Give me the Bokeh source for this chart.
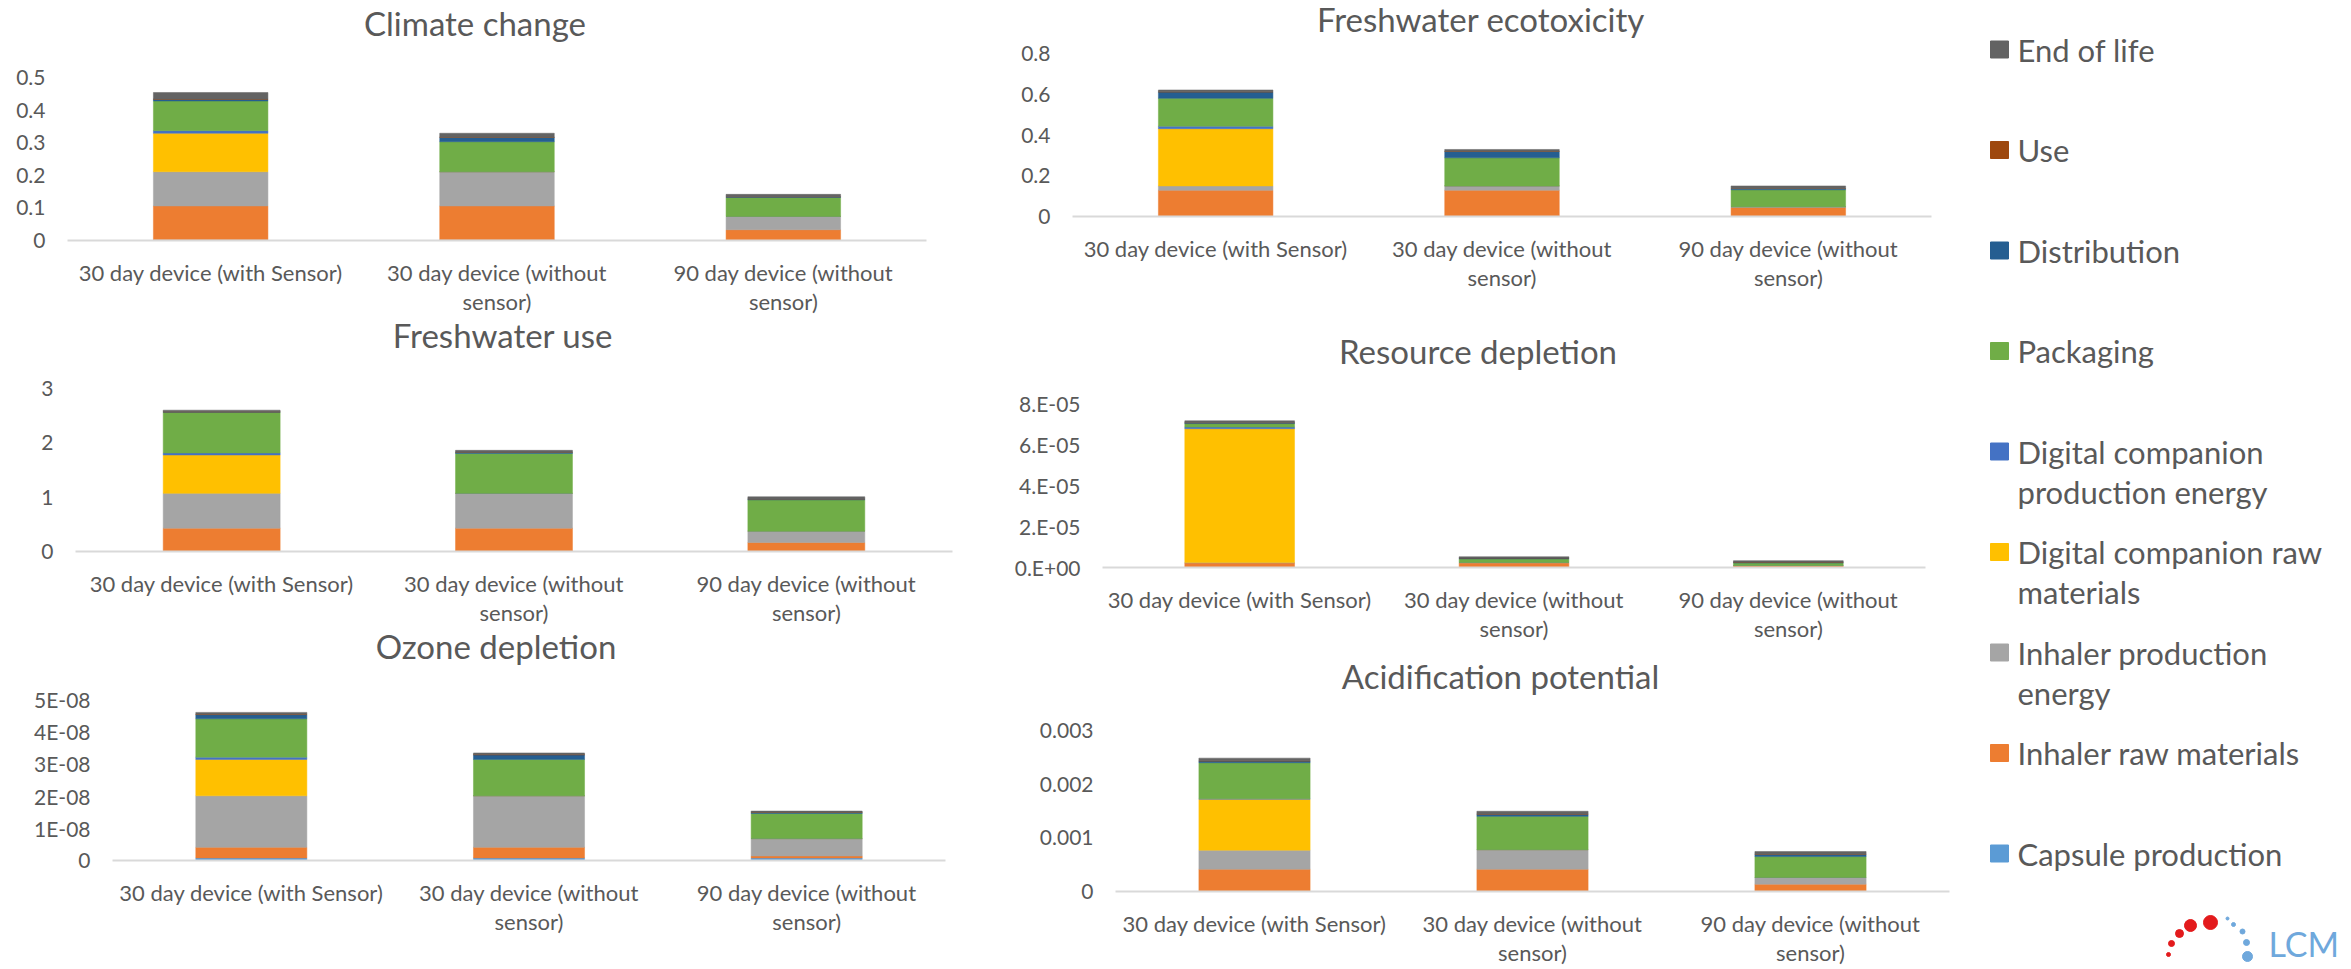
from bokeh.plotting import figure
from bokeh.layouts import row, column
from bokeh.models import Range1d, ColumnDataSource
from bokeh.embed import file_html
from bokeh.resources import INLINE
from bokeh.core.properties import value

# ---------------- data ----------------
categories = ["30 day device (with Sensor)",
              "30 day device (without sensor)",
              "90 day device (without sensor)"]
category_labels = ["30 day device (with Sensor)",
                   "30 day device (without\nsensor)",
                   "90 day device (without\nsensor)"]

# stacking order, bottom to top
series = ["Capsule production", "Inhaler raw materials", "Inhaler production energy",
          "Digital companion raw materials", "Digital companion production energy",
          "Packaging", "Distribution", "Use", "End of life"]
series_colors = ["#5b9bd5", "#ed7d31", "#a5a5a5", "#ffc000", "#4472c4",
                 "#70ad47", "#255e91", "#9e480e", "#636363"]
legend_wrapped = ["End of life", "Use", "Distribution", "Packaging",
                  "Digital companion\nproduction energy",
                  "Digital companion raw\nmaterials",
                  "Inhaler production\nenergy",
                  "Inhaler raw materials", "Capsule production"]

# rows follow `series`, columns follow `categories`
climate_change = [
    [0.002, 0.002, 0.001],
    [0.104, 0.104, 0.032],
    [0.105, 0.105, 0.041],
    [0.118, 0.0, 0.0],
    [0.008, 0.0, 0.0],
    [0.091, 0.092, 0.058],
    [0.005, 0.013, 0.002],
    [0.001, 0.001, 0.0005],
    [0.020, 0.012, 0.007],
]
climate_ticks = [0, 0.1, 0.2, 0.3, 0.4, 0.5]
climate_tick_labels = ["0", "0.1", "0.2", "0.3", "0.4", "0.5"]

freshwater_use = [
    [0.01, 0.01, 0.005],
    [0.42, 0.42, 0.16],
    [0.64, 0.64, 0.21],
    [0.706, 0.0, 0.0],
    [0.037, 0.0, 0.0],
    [0.75, 0.735, 0.576],
    [0.006, 0.02, 0.015],
    [0.002, 0.002, 0.001],
    [0.03, 0.035, 0.04],
]
freshwater_ticks = [0, 1, 2, 3]
freshwater_tick_labels = ["0", "1", "2", "3"]

ozone_depletion = [
    [0.08e-8, 0.08e-8, 0.08e-8],
    [0.33e-8, 0.33e-8, 0.06e-8],
    [1.60e-8, 1.60e-8, 0.54e-8],
    [1.13e-8, 0.0, 0.0],
    [0.07e-8, 0.0, 0.0],
    [1.19e-8, 1.13e-8, 0.78e-8],
    [0.13e-8, 0.14e-8, 0.03e-8],
    [0.01e-8, 0.01e-8, 0.005e-8],
    [0.06e-8, 0.05e-8, 0.04e-8],
]
ozone_ticks = [0, 1e-8, 2e-8, 3e-8, 4e-8, 5e-8]
ozone_tick_labels = ["0", "1E-08", "2E-08", "3E-08", "4E-08", "5E-08"]

freshwater_ecotoxicity = [
    [0.002, 0.002, 0.001],
    [0.127, 0.127, 0.043],
    [0.021, 0.021, 0.004],
    [0.281, 0.0, 0.0],
    [0.012, 0.0, 0.0],
    [0.137, 0.138, 0.083],
    [0.031, 0.031, 0.006],
    [0.001, 0.001, 0.001],
    [0.009, 0.009, 0.012],
]
ecotox_ticks = [0, 0.2, 0.4, 0.6, 0.8]
ecotox_tick_labels = ["0", "0.2", "0.4", "0.6", "0.8"]

resource_depletion = [
    [0.02e-5, 0.02e-5, 0.01e-5],
    [0.20e-5, 0.20e-5, 0.07e-5],
    [0.02e-5, 0.03e-5, 0.02e-5],
    [6.53e-5, 0.0, 0.0],
    [0.08e-5, 0.0, 0.0],
    [0.17e-5, 0.17e-5, 0.12e-5],
    [0.04e-5, 0.04e-5, 0.04e-5],
    [0.005e-5, 0.005e-5, 0.005e-5],
    [0.09e-5, 0.06e-5, 0.07e-5],
]
resource_ticks = [0, 2e-5, 4e-5, 6e-5, 8e-5]
resource_tick_labels = ["0.E+00", "2.E-05", "4.E-05", "6.E-05", "8.E-05"]

acidification_potential = [
    [0.00001, 0.00001, 0.000005],
    [0.000406, 0.000406, 0.000132],
    [0.000354, 0.000364, 0.000124],
    [0.00095, 0.0, 0.0],
    [0.00001, 0.0, 0.0],
    [0.00067, 0.00062, 0.00039],
    [0.00003, 0.00004, 0.00004],
    [0.000005, 0.000005, 0.000003],
    [0.00005, 0.00005, 0.00005],
]
acid_ticks = [0, 0.001, 0.002, 0.003]
acid_tick_labels = ["0", "0.001", "0.002", "0.003"]

# ---------------- styling ----------------
FONT = "Lato"
TEXT_COLOR = "#595959"
AXIS_COLOR = "#d9d9d9"


def make_panel(title, values, ticks, tick_labels, W, H, a, b, y_top, y_zero,
               title_dx, title_above):
    """a, b: pixel left/right of the category area; y_top, y_zero: pixel rows
    of the top tick and of zero (from the top of the panel)."""
    n = len(categories)
    unit = (b - a) / n
    ymax = ticks[-1]
    per_px = ymax / (y_zero - y_top)
    p = figure(width=W, height=H,
               x_range=Range1d(-a / unit, n + (W - b) / unit),
               y_range=Range1d(-(H - y_zero) * per_px, ymax + y_top * per_px),
               toolbar_location=None, tools="", output_backend="svg",
               min_border=0)
    p.axis.visible = False
    p.grid.visible = False
    p.outline_line_color = None

    xs = [i + 0.5 for i in range(n)]
    data = {"x": xs}
    for name, vals in zip(series, values):
        data[name] = vals
    source = ColumnDataSource(data)
    p.vbar_stack(series, x="x", width=0.4, color=series_colors,
                 line_width=0.5, source=source)

    # category axis line
    p.segment(x0=[0], x1=[n], y0=[0], y1=[0], line_color=AXIS_COLOR, line_width=2)

    # value axis tick labels
    p.text(x=[0] * len(ticks), y=ticks, text=tick_labels, x_offset=-22,
           text_align="right", text_baseline="middle",
           text_font=value(FONT), text_font_size=value("21px"), text_color=TEXT_COLOR)

    # category tick labels (wrapped like the original)
    lx, ly, lt, lo = [], [], [], []
    for i, lab in enumerate(category_labels):
        for j, line in enumerate(lab.split("\n")):
            lx.append(xs[i])
            ly.append(0)
            lt.append(line)
            lo.append(32 + j * 29)
    csrc = ColumnDataSource(dict(x=lx, y=ly, text=lt, off=lo))
    p.text(x="x", y="y", text="text", y_offset="off", source=csrc,
           text_align="center", text_baseline="middle",
           text_font=value(FONT), text_font_size=value("22px"), text_color=TEXT_COLOR)

    # chart title
    p.text(x=[n / 2], y=[ymax], text=[title], x_offset=title_dx, y_offset=-title_above,
           text_align="center", text_baseline="middle",
           text_font=value(FONT), text_font_size=value("33px"), text_color=TEXT_COLOR)
    return p


LW, RW, GW = 1000, 960, 388

p_climate = make_panel("Climate change", climate_change, climate_ticks, climate_tick_labels,
                       LW, 314, 67, 926, 77, 240, -22, 55)
p_fwuse = make_panel("Freshwater use", freshwater_use, freshwater_ticks, freshwater_tick_labels,
                     LW, 312, 75, 952, 74, 237, -11, 54)
p_ozone = make_panel("Ozone depletion", ozone_depletion, ozone_ticks, ozone_tick_labels,
                     LW, 340, 112, 945, 73, 234, -33, 54)

p_ecotox = make_panel("Freshwater ecotoxicity", freshwater_ecotoxicity, ecotox_ticks,
                      ecotox_tick_labels, RW, 300, 72, 931, 53, 216, -21, 35)
p_resource = make_panel("Resource depletion", resource_depletion, resource_ticks,
                        resource_tick_labels, RW, 350, 102, 925, 103, 267, -36, 53)
p_acid = make_panel("Acidification potential", acidification_potential, acid_ticks,
                    acid_tick_labels, RW, 316, 115, 949, 80, 241, -32, 55)

# ---------------- legend panel ----------------
GH = 966
lg = figure(width=GW, height=GH, x_range=Range1d(0, GW), y_range=Range1d(GH, 0),
            toolbar_location=None, tools="", output_backend="svg",
            min_border=0)
lg.axis.visible = False
lg.grid.visible = False
lg.outline_line_color = None

legend_colors = list(reversed(series_colors))
first_y, pitch, line_gap = 49, 100.5, 40
sq_x, text_x = 39, 57
sq_y = [first_y + i * pitch for i in range(len(legend_wrapped))]
lg.rect(x=[sq_x] * len(sq_y), y=sq_y, width=18, height=17, color=legend_colors)
tx, ty, tt = [], [], []
for i, lab in enumerate(legend_wrapped):
    for j, line in enumerate(lab.split("\n")):
        tx.append(text_x)
        ty.append(sq_y[i] + j * line_gap)
        tt.append(line)
lg.text(x=tx, y=ty, text=tt, text_font=value(FONT), text_font_size=value("31px"),
        text_color=TEXT_COLOR, text_baseline="middle", text_align="left")

# conference logo (decorative)
logo_red_x = [250, 230, 219, 211, 208]
logo_red_y = [922, 925, 933, 943, 954]
logo_red_s = [14, 12, 8, 6, 4]
logo_blue_x = [267, 273, 282, 286, 287]
logo_blue_y = [918, 924, 931, 942, 956]
logo_blue_s = [3, 4, 5, 6, 10]
lg.scatter(logo_red_x, logo_red_y, size=logo_red_s, color="#e31a1c")
lg.scatter(logo_blue_x, logo_blue_y, size=logo_blue_s, color="#6fa8dc")
lg.text(x=[308], y=[943], text=["LCM"], text_font=value(FONT), text_font_size=value("34px"),
        text_color="#6fa8dc", text_baseline="middle", text_align="left")

layout = row(column(p_climate, p_fwuse, p_ozone),
             column(p_ecotox, p_resource, p_acid),
             lg)

open("out.html", "w").write(file_html(layout, INLINE))
